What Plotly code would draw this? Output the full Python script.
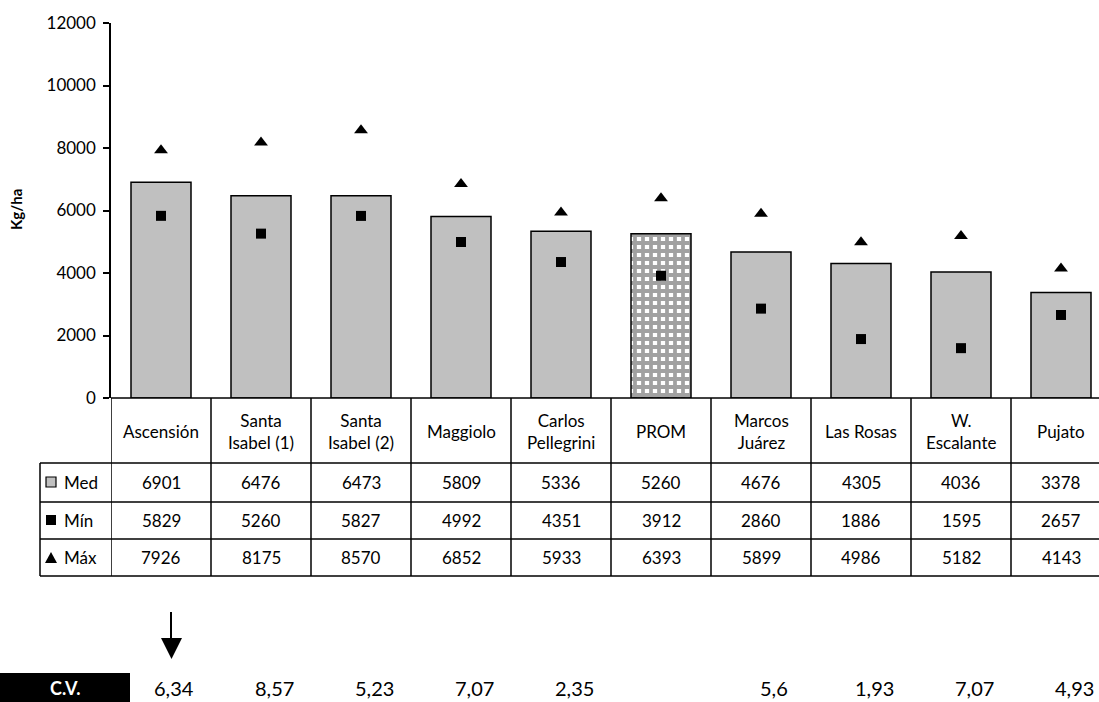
import plotly.graph_objects as go

# Localidades y rendimientos (kg/ha)
localidades = ["Ascensión", "Santa<br>Isabel (1)", "Santa<br>Isabel (2)", "Maggiolo",
               "Carlos<br>Pellegrini", "PROM", "Marcos<br>Juárez", "Las Rosas",
               "W.<br>Escalante", "Pujato"]
med = [6901, 6476, 6473, 5809, 5336, 5260, 4676, 4305, 4036, 3378]
minimo = [5829, 5260, 5827, 4992, 4351, 3912, 2860, 1886, 1595, 2657]
maximo = [7926, 8175, 8570, 6852, 5933, 6393, 5899, 4986, 5182, 4143]
cv = ["6,34", "8,57", "5,23", "7,07", "2,35", "", "5,6", "1,93", "7,07", "4,93"]
filas = ["Med", "Mín", "Máx"]
y_ticks = [0, 2000, 4000, 6000, 8000, 10000, 12000]

W, H = 1099, 702
L, T, B = 111, 23, 398          # plot area in pixels (left, top, bottom)
PLOT_H = B - T
COL_W = 100                      # pixels per category
PLOT_W = W - L
FONT = "Lato, Open Sans, sans-serif"

def py(p):
    """pixel row -> paper y"""
    return (B - p) / PLOT_H

def px(p):
    """pixel column -> paper x"""
    return (p - L) / PLOT_W

xs = list(range(len(localidades)))
bar_colors = ["#C0C0C0"] * len(xs)
shapes_pattern = [""] * len(xs)
prom = localidades.index("PROM")
bar_colors[prom] = "white"
shapes_pattern[prom] = "+"

fig = go.Figure()
fig.add_trace(go.Bar(
    x=xs, y=med, width=0.6,
    marker=dict(color=bar_colors, line=dict(color="black", width=1.5),
                pattern=dict(shape=shapes_pattern, fgcolor="black", bgcolor="white",
                             size=8, solidity=0.72)),
    hoverinfo="skip", showlegend=False,
))
fig.add_trace(go.Scatter(
    x=xs, y=minimo, mode="markers",
    marker=dict(symbol="square", size=10, color="black"), showlegend=False,
))
fig.add_trace(go.Scatter(
    x=xs, y=maximo, mode="markers",
    marker=dict(symbol="triangle-up", size=12, color="black"), showlegend=False,
))

shapes = []
annotations = []
line = dict(color="black", width=1.5)


def label(x, y, text, xref="x", size=18, color="black", **kw):
    annotations.append(dict(x=x, y=y, xref=xref, yref="paper", text=text,
                            showarrow=False, yanchor="middle",
                            font=dict(size=size, family=FONT, color=color), **kw))


# table grid
row_y = [B, 463, 502, 539, 576]
for i, yy in enumerate(row_y):
    x0 = px(111) if i == 0 else px(40)
    shapes.append(dict(type="line", xref="paper", yref="paper",
                       x0=x0, x1=1.02, y0=py(yy), y1=py(yy), line=line))
shapes.append(dict(type="line", xref="paper", yref="paper",
                   x0=px(40), x1=px(40), y0=py(463), y1=py(576), line=line))
for i in range(len(xs) + 1):
    shapes.append(dict(type="line", xref="x", yref="paper",
                       x0=i - 0.5, x1=i - 0.5, y0=0, y1=py(576), line=line))

# header cells
for i, name in enumerate(localidades):
    label(i, py(431), name, size=17, xanchor="center", align="center")

# value rows
row_centers = [482, 520, 557]
for vals, yc in zip([med, minimo, maximo], row_centers):
    for i, v in enumerate(vals):
        label(i, py(yc), str(v), size=17, xanchor="center")

# row labels with legend keys
for name, yc in zip(filas, row_centers):
    label(px(62), py(yc), name, xref="paper", size=17, xanchor="left")
k = 5
shapes.append(dict(type="rect", xref="paper", yref="paper",
                   x0=px(51 - k), x1=px(51 + k), y0=py(482 - k), y1=py(482 + k),
                   fillcolor="#C0C0C0", line=dict(color="black", width=1.2)))
shapes.append(dict(type="rect", xref="paper", yref="paper",
                   x0=px(51 - k), x1=px(51 + k), y0=py(520 - k), y1=py(520 + k),
                   fillcolor="black", line=dict(color="black", width=0)))
tri = f"M {px(45)} {py(563)} L {px(57)} {py(563)} L {px(51)} {py(552)} Z"
shapes.append(dict(type="path", xref="paper", yref="paper", path=tri,
                   fillcolor="black", line=dict(color="black", width=0)))

# y-axis title
label(px(16), py(210), "<b>Kg/ha</b>", xref="paper", size=15, xanchor="center",
      textangle=-90)

# C.V. row
shapes.append(dict(type="rect", xref="paper", yref="paper",
                   x0=px(-2), x1=px(130), y0=py(673), y1=py(704),
                   fillcolor="black", line=dict(width=0)))
label(px(65), py(688), "<b>C.V.</b>", xref="paper", size=18, color="white",
      xanchor="center")
for i, v in enumerate(cv):
    label(i, py(688), v, size=20, xanchor="center", xshift=13)

# arrow pointing to the first C.V.
shapes.append(dict(type="line", xref="paper", yref="paper",
                   x0=px(171), x1=px(171), y0=py(612), y1=py(640),
                   line=dict(color="black", width=2)))
arrow = f"M {px(161)} {py(638)} L {px(182)} {py(638)} L {px(171.5)} {py(659)} Z"
shapes.append(dict(type="path", xref="paper", yref="paper", path=arrow,
                   fillcolor="black", line=dict(color="black", width=0)))

fig.update_layout(
    width=W, height=H,
    margin=dict(l=L, r=0, t=T, b=H - B, pad=0),
    plot_bgcolor="white", paper_bgcolor="white",
    bargap=0.4,
    xaxis=dict(range=[-0.5, -0.5 + PLOT_W / COL_W], showticklabels=False,
               showgrid=False, zeroline=False, showline=False, ticks=""),
    yaxis=dict(range=[0, 12000], tickvals=y_ticks, ticktext=[str(t) for t in y_ticks],
               showgrid=False, zeroline=False,
               showline=True, linecolor="black", linewidth=1.5,
               ticks="outside", ticklen=6, tickwidth=1.5, tickcolor="black",
               ticklabelstandoff=4,
               tickfont=dict(size=17, family=FONT, color="black")),
    shapes=shapes, annotations=annotations,
    showlegend=False,
)

fig.write_html("out.html")
